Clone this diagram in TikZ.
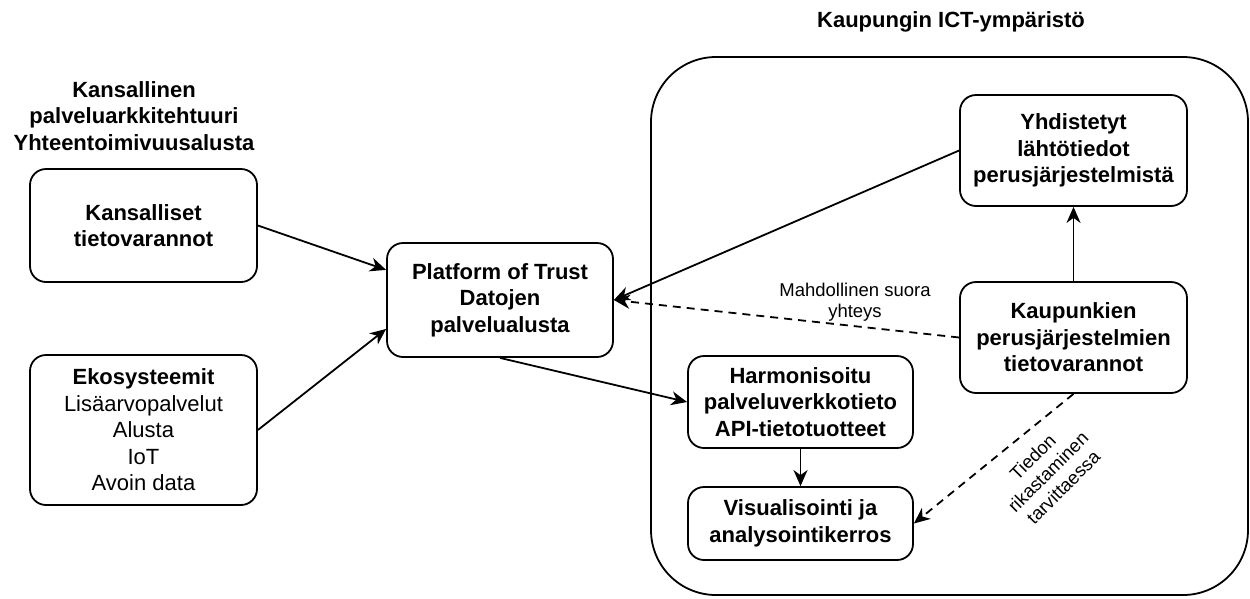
\documentclass[tikz,border=0pt]{standalone}
\usepackage{fontspec}
\setmainfont{Liberation Sans}
\usetikzlibrary{arrows.meta,calc}
\begin{document}
\begin{tikzpicture}[x=1pt,y=-1pt,
  box/.style={draw, line width=1.8pt, rounded corners=16pt, align=center, inner sep=0pt,
    font=\bfseries\fontsize{22}{26.5}\selectfont},
  plainbox/.style={box, font=\mdseries\fontsize{22}{26.5}\selectfont},
  title/.style={align=center, inner sep=0pt, font=\bfseries\fontsize{22}{26.5}\selectfont},
  lbl/.style={align=center, inner sep=0pt, font=\fontsize{18.5}{21.5}\selectfont},
  conn/.style={line width=1.8pt, -{Stealth[length=16pt,width=14pt,inset=5pt]}},
  dashconn/.style={conn, dash pattern=on 8pt off 6pt}]
\useasboundingbox (0,0) rectangle (1250,598);

% container
\draw[line width=1.8pt, rounded corners=65pt] (651,57) rectangle (1248,595);

% titles
\node[title] (ttl) at (134,116) {Kansallinen\\palveluarkkitehtuuri\\Yhteentoimivuusalusta};
\node[title] (ttr) at (951,22) {Kaupungin ICT-ympäristö};

% boxes
\node[box, minimum width=227pt, minimum height=113pt] (kt) at (143.5,225.5) {Kansalliset\\tietovarannot};
\node[plainbox, minimum width=227pt, minimum height=150pt] (eko) at (143.5,430) {{\bfseries Ekosysteemit}\\Lisäarvopalvelut\\Alusta\\IoT\\Avoin data};
\node[box, minimum width=226pt, minimum height=114pt] (pot) at (500,300) {Platform of Trust\\Datojen\\palvelualusta};
\node[box, minimum width=227pt, minimum height=111pt] (yhd) at (1073.5,150.5) {Yhdistetyt\\lähtötiedot\\perusjärjestelmistä};
\node[box, minimum width=227pt, minimum height=111pt] (kau) at (1073.5,337.5) {Kaupunkien\\perusjärjestelmien\\tietovarannot};
\node[box, minimum width=225pt, minimum height=92pt] (har) at (800.5,402) {Harmonisoitu\\palveluverkkotieto\\API-tietotuotteet};
\node[box, minimum width=225pt, minimum height=73pt] (vis) at (800.5,523.5) {Visualisointi ja\\analysointikerros};

% connectors
\coordinate (potA) at ($(pot.north west)!0.24!(pot.south west)$);
\coordinate (potB) at ($(pot.north west)!0.75!(pot.south west)$);
\draw[conn] (kt.east) -- (potA);
\draw[conn] (eko.east) -- (potB);
\draw[conn] (yhd.west) -- (pot.east);
\draw[dashconn] (kau.west) -- (pot.east);
\draw[conn] (kau.north) -- (yhd.south);
\draw[conn] (pot.south) -- (har.west);
\draw[conn] (har.south) -- (vis.north);
\draw[dashconn] (kau.south) -- (vis.east);

% labels
\node[lbl] (l1) at (855,302) {Mahdollinen suora\\yhteys};
\node[lbl, rotate=45] (l2) at (1048,472) {Tiedon\\rikastaminen\\tarvittaessa};
\end{tikzpicture}
\end{document}
